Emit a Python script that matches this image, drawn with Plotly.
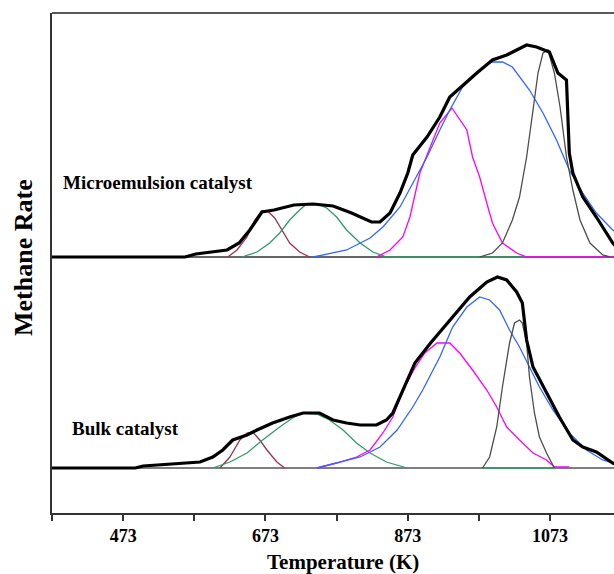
import plotly.graph_objects as go

# ---------------- data (temperature in K, rate in arbitrary units) ----------------
# Microemulsion catalyst
me_total_T = [373, 560, 575, 619, 636, 651, 668, 685, 713, 740, 768, 794, 822, 834, 848, 862, 873, 880, 900, 918,
              932, 946, 970, 992, 1012, 1040, 1054, 1072, 1084, 1096, 1100, 1105, 1119, 1138, 1161, 1180]
me_total_rate = [0, 0, 3, 7, 14, 27, 45, 47, 52, 53, 51, 44, 35, 35, 44, 64, 84, 102, 120, 140,
                 160, 169, 184, 197, 202, 212, 210, 205, 184, 177, 104, 84, 60, 40, 14, 0]

me_p1_T = [620, 633, 647, 658, 668, 676, 686, 696, 707, 721, 735]
me_p1_rate = [0, 7, 20, 37, 46, 46, 39, 27, 14, 5, 0]

me_p2_T = [640, 661, 679, 693, 707, 721, 731, 745, 759, 773, 787, 806, 824, 843, 1040]
me_p2_rate = [0, 5, 14, 24, 37, 47, 53, 53, 49, 40, 27, 14, 5, 0, 0]

me_p3_T = [829, 848, 866, 876, 890, 904, 918, 935, 946, 956, 964, 974, 984, 992, 1006, 1026, 1040, 1199]
me_p3_rate = [0, 7, 20, 40, 84, 110, 134, 149, 137, 127, 100, 80, 54, 34, 14, 4, 0, 0]

me_p4_T = [740, 787, 820, 838, 862, 880, 900, 918, 932, 950, 970, 988, 1006, 1020, 1044, 1063, 1082,
           1100, 1119, 1138, 1161, 1199]
me_p4_rate = [0, 7, 19, 30, 50, 74, 100, 127, 147, 170, 184, 195, 195, 190, 167, 144, 117,
              87, 64, 44, 27, 10]

me_p5_T = [974, 992, 1006, 1020, 1030, 1040, 1049, 1056, 1063, 1070, 1079, 1087, 1096, 1105, 1115, 1129, 1147, 1157]
me_p5_rate = [0, 4, 14, 37, 60, 100, 147, 184, 204, 207, 184, 150, 100, 67, 37, 14, 2, 0]

# Bulk catalyst
bulk_total_T = [373, 490, 501, 558, 581, 599, 613, 627, 647, 661, 683, 707, 726, 749, 768, 787, 806, 829, 843, 852,
                862, 883, 905, 918, 936, 960, 984, 999, 1012, 1026, 1034, 1040, 1049, 1068, 1086, 1105,
                1119, 1138, 1161, 1178]
bulk_total_rate = [0, 0, 2, 5, 6, 11, 18, 28, 33, 38, 45, 51, 55, 55, 48, 45, 43, 43, 48, 55,
                   71, 105, 125, 136, 150, 171, 186, 191, 188, 176, 165, 128, 101, 75, 51, 28,
                   21, 16, 5, 0]

bulk_p1_T = [609, 623, 637, 647, 655, 665, 675, 689, 700]
bulk_p1_rate = [0, 11, 28, 35, 36, 28, 18, 6, 0]

bulk_p2_T = [599, 623, 647, 669, 693, 711, 726, 745, 763, 782, 801, 820, 843, 872, None, 977, 1081]
bulk_p2_rate = [0, 6, 15, 28, 41, 50, 55, 54, 48, 38, 25, 15, 6, 0, None, 0, 0]

bulk_p3_T = [745, 773, 801, 820, 838, 852, 866, 883, 897, 914, 932, 946, 964, 984, 998, 1012, 1030,
             1049, 1068, 1079, 1100]
bulk_p3_rate = [0, 5, 11, 18, 35, 51, 78, 100, 115, 125, 125, 115, 98, 78, 61, 41, 28,
                15, 8, 1, 1]

bulk_p4_T = [745, 773, 806, 834, 858, 880, 894, 918, 936, 956, 974, 988, 1002, 1016, 1030, 1044, 1058,
             1077, 1100, 1124, 1147, 1162, 1199]
bulk_p4_rate = [0, 5, 11, 21, 38, 61, 78, 111, 141, 161, 171, 168, 158, 138, 121, 101, 81,
                58, 35, 18, 8, 5, 1]

bulk_p5_T = [978, 988, 998, 1006, 1016, 1023, 1030, 1034, 1040, 1044, 1051, 1058, 1068, 1075, 1079]
bulk_p5_rate = [0, 11, 41, 81, 125, 145, 148, 145, 125, 91, 55, 31, 15, 5, 0]

tick_vals = [373, 473, 573, 673, 773, 873, 973, 1073, 1173]
tick_text = ["", "473", "", "673", "", "873", "", "1073", ""]

ME_OFFSET = 256    # vertical stacking offset of the upper trace set
BULK_OFFSET = 45   # vertical stacking offset of the lower trace set

# ---------------- styling ----------------
FONT = "Liberation Serif, Times New Roman, serif"
COMP_COLORS = ["#993355", "#339966", "#FF00FF", "#3366FF", "#4D4D4D"]

fig = go.Figure()


def add_set(offset, comps, total):
    for (T, r), col in zip(comps, COMP_COLORS):
        fig.add_trace(go.Scatter(
            x=T, y=[None if v is None else v + offset for v in r],
            mode="lines", line=dict(color=col, width=1.3), connectgaps=False,
            hoverinfo="skip", showlegend=False))
    T, r = total
    fig.add_trace(go.Scatter(
        x=T, y=[v + offset for v in r], mode="lines",
        line=dict(color="black", width=3.2), hoverinfo="skip", showlegend=False))


add_set(ME_OFFSET,
        [(me_p1_T, me_p1_rate), (me_p2_T, me_p2_rate), (me_p3_T, me_p3_rate),
         (me_p4_T, me_p4_rate), (me_p5_T, me_p5_rate)],
        (me_total_T, me_total_rate))
add_set(BULK_OFFSET,
        [(bulk_p1_T, bulk_p1_rate), (bulk_p2_T, bulk_p2_rate), (bulk_p3_T, bulk_p3_rate),
         (bulk_p4_T, bulk_p4_rate), (bulk_p5_T, bulk_p5_rate)],
        (bulk_total_T, bulk_total_rate))

shapes = [
    dict(type="line", xref="paper", yref="y", x0=0, x1=1, y0=ME_OFFSET, y1=ME_OFFSET,
         line=dict(color="#333333", width=1.6), layer="below"),
    dict(type="line", xref="paper", yref="y", x0=0, x1=1, y0=BULK_OFFSET, y1=BULK_OFFSET,
         line=dict(color="#555555", width=1.4), layer="below"),
    dict(type="line", xref="paper", yref="paper", x0=0, x1=1, y0=1, y1=1,
         line=dict(color="#222222", width=1.6)),
]

annotations = [
    dict(text="Microemulsion catalyst", x=385.6, y=331, xref="x", yref="y",
         xanchor="left", yanchor="middle", showarrow=False,
         font=dict(family=FONT, size=19, color="black", weight="bold")),
    dict(text="Bulk catalyst", x=398, y=85, xref="x", yref="y",
         xanchor="left", yanchor="middle", showarrow=False,
         font=dict(family=FONT, size=19, color="black", weight="bold")),
    dict(text="Methane Rate", x=0, xref="paper", xshift=-29, y=0.51, yref="paper",
         xanchor="center", yanchor="middle", textangle=-90, showarrow=False,
         font=dict(family=FONT, size=26, color="black", weight="bold")),
    dict(text="Temperature (K)", x=0.518, xref="paper", y=0, yref="paper", yshift=-49,
         xanchor="center", yanchor="middle", showarrow=False,
         font=dict(family=FONT, size=21, color="black", weight="bold")),
]

fig.update_layout(
    width=614, height=574,
    margin=dict(l=52, r=0, t=13, b=61, pad=0),
    plot_bgcolor="white", paper_bgcolor="white",
    shapes=shapes, annotations=annotations,
    xaxis=dict(range=[373, 1162.8], tickvals=tick_vals, ticktext=tick_text,
               ticks="outside", ticklen=6, tickwidth=1.5, tickcolor="#333333",
               showline=True, linecolor="#333333", linewidth=1.6,
               showgrid=False, zeroline=False,
               tickfont=dict(family=FONT, size=18, color="black", weight="bold")),
    yaxis=dict(range=[0, 500], showline=True, linecolor="#333333", linewidth=1.6,
               showticklabels=False, ticks="", showgrid=False, zeroline=False),
)

fig.write_html("out.html", config={"displayModeBar": False},
               post_script="document.body.style.margin='0';")
